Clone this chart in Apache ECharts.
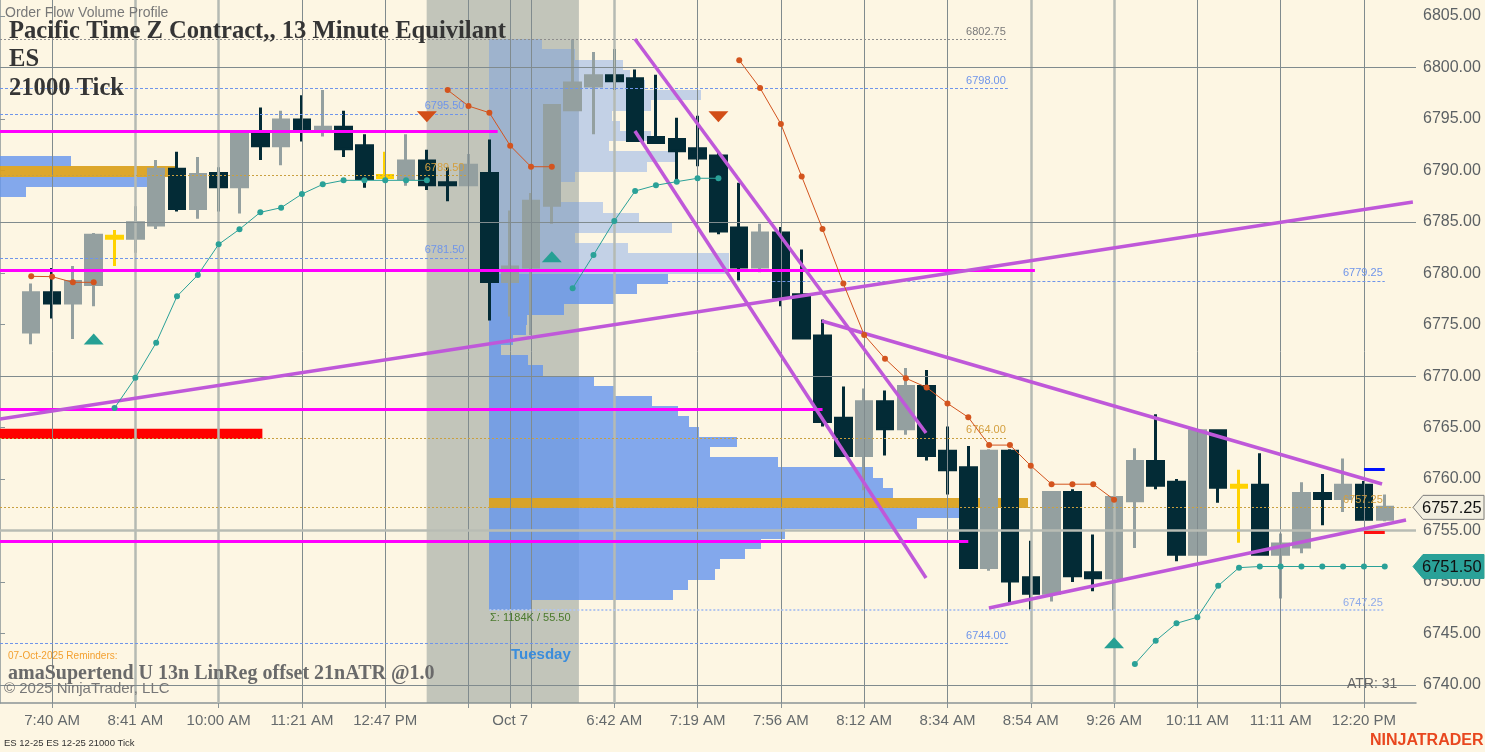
<!DOCTYPE html>
<html><head><meta charset="utf-8">
<script src="https://cdn.jsdelivr.net/npm/echarts@6/dist/echarts.min.js"></script>
<style>html,body{margin:0;padding:0;background:#fdf6e3;}#c{width:1485px;height:752px;}</style>
</head><body><div id="c"></div>
<script>
// ---------------- DATA ----------------
const barCount = 68; // slots on the time axis (one empty slot at each end)
const timeTickIndex = [2, 6, 10, 14, 18, 22, 24, 25, 29, 33, 37, 41, 45, 49, 53, 57, 61, 65];
const timeTickLabels = ['7:40 AM', '8:41 AM', '10:00 AM', '11:21 AM', '12:47 PM', '', 'Oct 7', '', '6:42 AM', '7:19 AM', '7:56 AM', '8:12 AM', '8:34 AM', '8:54 AM', '9:26 AM', '10:11 AM', '11:11 AM', '12:20 PM'];
const majorTimeIndex = [6, 10, 29, 49, 53];
const priceTicks = [6740, 6745, 6750, 6755, 6760, 6765, 6770, 6775, 6780, 6785, 6790, 6795, 6800, 6805];
const priceGridLevels = [6740, 6770, 6785, 6800];
const priorCloseLevel = 6755;

const candleOpen = [6774.3, 6778.1, 6777.1, 6778.9, 6783.4, 6783.4, 6784.7, 6790.1, 6786.3, 6789.7,
  6788.4, 6793.7, 6792.4, 6794.9, 6794.0, 6794.2, 6792.4, 6789.5, 6789.2, 6790.9,
  6788.8, 6788.6, 6789.7, 6779.2, 6780.6, 6786.6, 6795.9, 6798.2, 6799.2, 6798.9,
  6793.2, 6793.0, 6792.1, 6791.4, 6784.4, 6780.6, 6783.9, 6777.9, 6773.9, 6765.9,
  6762.3, 6767.5, 6764.9, 6769.0, 6762.7, 6761.1, 6751.4, 6762.7, 6750.4, 6748.9,
  6758.7, 6750.9, 6750.4, 6757.9, 6761.7, 6759.7, 6752.7, 6764.7, 6759.4, 6759.4,
  6752.7, 6753.4, 6758.6, 6758.1, 6759.4, 6756.1];
const candleClose = [6778.1, 6777.1, 6779.2, 6783.7, 6783.6, 6784.9, 6790.1, 6786.3, 6789.6, 6788.4,
  6793.7, 6792.4, 6794.9, 6794.0, 6794.2, 6792.1, 6789.2, 6789.3, 6790.9, 6788.6,
  6788.6, 6790.5, 6779.2, 6780.6, 6787.0, 6796.3, 6798.5, 6799.2, 6798.7, 6792.9,
  6792.7, 6791.9, 6791.2, 6784.1, 6780.6, 6783.9, 6777.7, 6773.7, 6765.6, 6762.3,
  6767.5, 6764.9, 6769.0, 6762.3, 6760.9, 6751.4, 6762.7, 6750.1, 6748.9, 6758.7,
  6750.6, 6750.4, 6758.2, 6761.7, 6759.4, 6752.7, 6764.7, 6759.2, 6759.2, 6752.7,
  6753.7, 6758.6, 6758.1, 6759.4, 6756.1, 6757.25];
const candleLow = [6773.1, 6775.6, 6773.6, 6776.8, 6780.7, 6782.0, 6784.3, 6786.0, 6785.3, 6786.0,
  6785.8, 6791.0, 6790.5, 6792.8, 6793.3, 6791.3, 6788.3, 6789.3, 6788.5, 6788.1,
  6787.0, 6788.6, 6775.4, 6775.8, 6774.0, 6784.8, 6795.9, 6793.5, 6797.8, 6792.8,
  6792.6, 6789.1, 6790.4, 6783.8, 6779.3, 6780.1, 6776.8, 6773.7, 6765.1, 6762.3,
  6758.9, 6762.3, 6764.3, 6761.8, 6758.5, 6751.3, 6751.1, 6748.0, 6747.25, 6748.1,
  6750.0, 6749.1, 6747.25, 6753.3, 6759.0, 6752.0, 6752.6, 6757.7, 6753.8, 6752.6,
  6748.4, 6752.8, 6755.5, 6756.8, 6756.0, 6755.9];
const candleHigh = [6779.0, 6780.5, 6780.7, 6783.9, 6784.2, 6786.5, 6791.0, 6791.8, 6791.3, 6790.3,
  6793.8, 6796.1, 6795.8, 6797.3, 6797.8, 6795.8, 6793.5, 6791.8, 6793.5, 6792.0,
  6790.3, 6791.6, 6793.0, 6786.1, 6787.8, 6796.3, 6802.75, 6801.5, 6801.8, 6799.8,
  6799.3, 6795.1, 6795.3, 6791.8, 6788.8, 6784.8, 6784.5, 6782.3, 6775.5, 6769.0,
  6768.8, 6768.6, 6770.8, 6770.6, 6765.1, 6763.2, 6762.9, 6762.9, 6754.0, 6758.8,
  6759.0, 6754.6, 6758.3, 6763.0, 6766.3, 6760.0, 6764.8, 6764.8, 6760.9, 6762.5,
  6754.7, 6759.7, 6760.5, 6762.0, 6759.8, 6758.5];
const firstCandleSlot = 1;
const highlightCandles = [4, 17, 58]; // painted yellow (0-based candle index)

// Supertrend style stops (segment start slot + values)
const tealStart = [5, 27, 54];
const tealValues = [
  [6766.9, 6769.85, 6773.25, 6777.76, 6779.83, 6782.81, 6784.27, 6785.92, 6786.37, 6787.7, 6788.64, 6789.03, 6789.03, 6789.03, 6789.03, 6789.03],
  [6778.54, 6781.77, 6785.08, 6787.99, 6788.55, 6788.9, 6789.23, 6789.23],
  [6742.03, 6744.29, 6745.98, 6746.57, 6749.63, 6751.39, 6751.5, 6751.5, 6751.5, 6751.5, 6751.5, 6751.5, 6751.5]
];
const redStart = [1, 21, 35];
const redValues = [
  [6779.7, 6779.67, 6779.12, 6779.12],
  [6797.8, 6796.25, 6795.6, 6792.4, 6790.35, 6790.35],
  [6800.7, 6798.0, 6794.5, 6789.4, 6784.3, 6779.0, 6774.0, 6771.7, 6769.8, 6768.9, 6767.35, 6766.0, 6763.3, 6763.3, 6761.3, 6759.5, 6759.5, 6759.5, 6758.0]
];
const buySignals = [[4, 6773.6], [26, 6781.6], [53, 6744.1]];
const sellSignals = [[20, 6795.2], [34, 6795.2]];

// Volume profile of the session (K contracts per row, bottom row first)
const profileLow = 6747.25, profileHigh = 6802.75;
const profileVolK = [4.9, 21.8, 23.5, 26.7, 27.3, 30.3, 32.2, 35.0, 50.7, 55.6,
  63.8, 47.8, 46.7, 45.4, 34.2, 26.2, 29.4, 24.8, 23.7, 22.4,
  19.3, 14.8, 12.4, 6.3, 4.6, 1.4, 2.8, 4.3, 4.5, 8.8,
  14.9, 17.5, 21.2, 28.4, 28.4, 16.4, 10.2, 21.6, 17.7, 13.5,
  8.4, 8.4, 10.2, 18.7, 22.3, 14.2, 19.1, 15.5, 14.5, 19.2,
  25.1, 18.5, 16.7, 15.8, 10.2, 6.2];
const profilePocRow = 10, profileValueAreaTopRow = 32;
const profileAnchorSlot = 23.5;
const prevProfileLow = 6787.4, prevProfileRow = 1.0;
const prevProfileVolK = [3.1, 17.4, 20.7, 8.4];
const prevProfilePocRow = 2;
const volumeSlotsPerK = 0.4053;

// Levels: [price, fromSlot, toSlot, style]
const levelLines = [
  [6802.75, 0, 48.4, 'gray'], [6798.00, 0, 48.4, 'blue'], [6795.50, 0, 22.4, 'blue'],
  [6789.50, 0, 22.4, 'orange'], [6781.50, 0, 22.4, 'blue'], [6779.25, 32.05, 66.5, 'blue'],
  [6764.00, 0, 48.4, 'orange'], [6757.25, 0, 66.5, 'orange'], [6747.25, 23.5, 66.5, 'light'],
  [6744.00, 0, 48.4, 'blue']
];
const magentaLevels = [[6793.8, 0, 23.9], [6780.3, 0, 49.7], [6766.8, 0, 39.5], [6754.0, 0, 46.5]];
const trendLines = [[0, 6765.84, 67.85, 6786.92], [30.49, 6802.76, 44.47, 6764.47], [30.49, 6793.82, 44.47, 6750.38],
  [39.47, 6775.36, 66.37, 6759.52], [47.49, 6747.47, 67.52, 6756.02]];
const redZone = [0, 12.6, 6763.9, 6764.9];
const targetHigh = [6761.0, 65.5, 66.5], targetLow = [6754.8, 65.5, 66.5];
const sessionBreak = [20.49, 27.8];
const lastPrice = 6757.25, stopPrice = 6751.50;

// ---------------- BUILD ----------------
const timeLabels = new Array(barCount).fill('');
timeTickIndex.forEach((i, k) => timeLabels[i] = timeTickLabels[k]);
const labelSet = new Set(timeTickIndex.filter((i, k) => timeTickLabels[k] !== ''));
const tickSet = new Set(timeTickIndex);

const candleData = new Array(barCount).fill(null).map(() => ['-', '-', '-', '-']);
candleOpen.forEach((o, i) => {
  const item = { value: [o, candleClose[i], candleLow[i], candleHigh[i]] };
  if (highlightCandles.includes(i)) {
    item.itemStyle = { color: '#ffd200', color0: '#ffd200', borderColor: '#ffd200', borderColor0: '#ffd200' };
  }
  candleData[firstCandleSlot + i] = item;
});
function segs(starts, vals) {
  const arr = new Array(barCount).fill('-');
  starts.forEach((s, k) => vals[k].forEach((v, j) => arr[s + j] = v));
  return arr;
}
const tealData = segs(tealStart, tealValues);
const redData = segs(redStart, redValues);

const profStep = (profileHigh - profileLow) / profileVolK.length;
const profileData = profileVolK.map((v, k) => [profileAnchorSlot, v, profileLow + k * profStep, profileLow + (k + 1) * profStep,
  k === profilePocRow ? 2 : (k <= profileValueAreaTopRow ? 0 : 1)]);
prevProfileVolK.forEach((v, k) => profileData.push([0, v, prevProfileLow + k * prevProfileRow, prevProfileLow + (k + 1) * prevProfileRow, k === prevProfilePocRow ? 2 : 0]));
const profileColors = ['rgba(100,149,237,0.8)', 'rgba(100,149,237,0.38)', 'rgba(218,160,28,0.92)'];

const levelStyle = {
  gray: { line: '#8d8d8d', label: '#7a7a7a', type: [2, 2] },
  blue: { line: '#6f95ea', label: '#6f95ea', type: [3, 2] },
  orange: { line: '#c9a040', label: '#d4a040', type: [2, 2] },
  light: { line: '#b3c6ee', label: '#8eaaea', type: [2, 2] }
};
const levelMarks = [];
levelLines.forEach(([p, a, b, s]) => {
  const st = levelStyle[s];
  levelMarks.push([{ coord: [a, p], lineStyle: { color: st.line, type: st.type, width: s === 'light' ? 2 : 1 },
    label: { show: true, position: 'insideEndTop', distance: 2, formatter: p.toFixed(2), color: st.label, fontSize: 11, fontFamily: 'Liberation Sans' } },
    { coord: [b, p] }]);
});
levelMarks.push([{ coord: [66.5, lastPrice], lineStyle: { color: '#c9a040', type: [2, 2], width: 1 }, label: { show: false } }, { coord: [barCount, lastPrice] }]);

const gridMarks = [];
timeTickIndex.forEach(i => {
  const major = majorTimeIndex.includes(i);
  gridMarks.push({ xAxis: i + 0.5, lineStyle: { color: major ? '#b5bab3' : '#808b8e', width: major ? 2.5 : 1, type: 'solid' } });
});
priceGridLevels.forEach(p => gridMarks.push({ yAxis: p, lineStyle: { color: '#808b8e', width: 1, type: 'solid' } }));
gridMarks.push({ yAxis: priorCloseLevel, lineStyle: { color: '#b8bcb4', width: 2.5, type: 'solid' } });

const drawMarks = [];
magentaLevels.forEach(([p, a, b]) => drawMarks.push([{ coord: [a, p], lineStyle: { color: '#ff00ff', width: 3, type: 'solid' } }, { coord: [b, p] }]));
trendLines.forEach(([a, p, b, q]) => drawMarks.push([{ coord: [a, p], lineStyle: { color: '#bf58d9', width: 3.5, type: 'solid' } }, { coord: [b, q] }]));
drawMarks.push([{ coord: [targetHigh[1], targetHigh[0]], lineStyle: { color: '#0010ff', width: 3, type: 'solid' } }, { coord: [targetHigh[2], targetHigh[0]] }]);
drawMarks.push([{ coord: [targetLow[1], targetLow[0]], lineStyle: { color: '#ff1010', width: 3, type: 'solid' } }, { coord: [targetLow[2], targetLow[0]] }]);

const SANS = 'Liberation Sans, Arial, sans-serif';
const SERIF = 'Liberation Serif, Times New Roman, serif';

const chart = echarts.init(document.getElementById('c'), null, { renderer: 'canvas' });
chart.setOption({
  animation: false,
  backgroundColor: '#fdf6e3',
  grid: { left: 0, right: 69, top: 0, bottom: 49, containLabel: false },
  xAxis: [{
    type: 'category', data: timeLabels, boundaryGap: true,
    axisLine: { show: true, lineStyle: { color: '#8a9497', width: 1.5 } },
    axisTick: { show: true, alignWithLabel: true, length: 5, interval: (i) => tickSet.has(i), lineStyle: { color: '#8a9497' } },
    axisLabel: { interval: (i) => labelSet.has(i), color: '#656a6c', fontSize: 15, fontFamily: SANS, margin: 10 },
    splitLine: { show: false }
  }, {
    type: 'value', min: 0, max: barCount, show: false
  }],
  yAxis: [{
    type: 'value', position: 'right', min: 6738.236, max: 6806.555, scale: true, splitNumber: 14,
    splitLine: { show: false },
    axisLine: { show: true, lineStyle: { color: '#8a9497', width: 1.5 } },
    axisTick: { show: true, length: 5, customValues: priceTicks, lineStyle: { color: '#8a9497' } },
    axisLabel: { customValues: priceTicks, formatter: v => (Math.abs(v % 5) < 1e-6 ? v.toFixed(2) : ''), color: '#5c6164', fontSize: 16, fontFamily: SANS, margin: 7 }
  }],
  series: [
    { type: 'line', xAxisIndex: 1, data: [], z: 0, silent: true,
      markArea: { silent: true, itemStyle: { color: 'rgba(135,148,145,0.5)' }, data: [[{ xAxis: sessionBreak[0] }, { xAxis: sessionBreak[1] }]] } },
    { type: 'line', xAxisIndex: 1, data: [], z: 1, silent: true,
      markLine: { silent: true, symbol: 'none', animation: false, label: { show: false }, data: gridMarks } },
    { type: 'custom', xAxisIndex: 1, z: 2, silent: true, data: profileData,
      renderItem: (params, api) => {
        const a = api.value(0), v = api.value(1), lo = api.value(2), hi = api.value(3), kind = api.value(4);
        const p0 = api.coord([a, hi]);
        const p1 = api.coord([a + v * volumeSlotsPerK, lo]);
        const y0 = Math.round(p0[1]), y1 = Math.round(p1[1]);
        const x0 = Math.round(p0[0]), x1 = Math.round(p1[0]);
        return { type: 'rect', shape: { x: x0, y: y0, width: x1 - x0, height: y1 - y0 }, style: { fill: profileColors[kind] } };
      } },
    { type: 'line', xAxisIndex: 1, data: [], z: 3, silent: true,
      markArea: { silent: true, itemStyle: { color: '#ff0000' }, data: [[{ coord: [redZone[0], redZone[3]] }, { coord: [redZone[1], redZone[2]] }]] },
      markLine: { silent: true, symbol: 'none', animation: false, data: levelMarks } },
    { type: 'candlestick', xAxisIndex: 0, z: 4, data: candleData, barWidth: 16,
      itemStyle: { color: '#94a0a0', color0: '#032b36', borderColor: '#94a0a0', borderColor0: '#032b36', borderWidth: 3 } },
    { type: 'line', xAxisIndex: 0, z: 5, data: tealData, connectNulls: false, symbol: 'circle', symbolSize: 6, showSymbol: true,
      lineStyle: { color: '#2aa198', width: 1 }, itemStyle: { color: '#2aa198', opacity: 1 } },
    { type: 'line', xAxisIndex: 0, z: 5, data: redData, connectNulls: false, symbol: 'circle', symbolSize: 6, showSymbol: true,
      lineStyle: { color: '#d3541e', width: 1 }, itemStyle: { color: '#d3541e', opacity: 1 } },
    { type: 'scatter', xAxisIndex: 0, z: 5, data: buySignals, symbol: 'triangle', symbolSize: [20, 11], itemStyle: { color: '#26a094', opacity: 1 } },
    { type: 'scatter', xAxisIndex: 0, z: 5, data: sellSignals, symbol: 'triangle', symbolRotate: 180, symbolSize: [20, 11], itemStyle: { color: '#d24e17', opacity: 1 } },
    { type: 'line', xAxisIndex: 1, data: [], z: 6, silent: true,
      markLine: { silent: true, symbol: 'none', animation: false, label: { show: false }, data: drawMarks } },
    { type: 'custom', xAxisIndex: 1, z: 7, clip: false, silent: true, data: [[lastPrice, 0], [stopPrice, 1]],
      renderItem: (params, api) => {
        const y = api.coord([0, api.value(0)])[1];
        const x = params.coordSys.x + params.coordSys.width;
        const w = api.getWidth();
        const kind = api.value(1);
        return { type: 'group', children: [
          { type: 'polygon', shape: { points: [[x - 3, y], [x + 7, y - 12], [w - 1, y - 12], [w - 1, y + 12], [x + 7, y + 12]] },
            style: { fill: kind === 0 ? '#f3efe0' : '#2aa198', stroke: kind === 0 ? '#7d7d7d' : '#2aa198', lineWidth: 1 } },
          { type: 'text', style: { x: x + 6, y: y + 1, text: api.value(0).toFixed(2), fill: '#111', font: '16.5px ' + SANS, verticalAlign: 'middle', align: 'left' } }
        ] };
      } }
  ],
  graphic: [
    { type: 'text', left: 5, top: 6, z: 100, style: { text: 'Order Flow Volume Profile', font: '14px ' + SANS, fill: '#787878' } },
    { type: 'text', left: 9, top: 19, z: 100, style: { text: 'Pacific Time Z Contract,, 13 Minute Equivilant', font: 'bold 24.6px ' + SERIF, fill: '#353535' } },
    { type: 'text', left: 9, top: 47, z: 100, style: { text: 'ES', font: 'bold 24.6px ' + SERIF, fill: '#353535' } },
    { type: 'text', left: 9, top: 76, z: 100, style: { text: '21000 Tick', font: 'bold 24.6px ' + SERIF, fill: '#353535' } },
    { type: 'text', left: 490, top: 612, z: 100, style: { text: 'Σ: 1184K / 55.50', font: '11px ' + SANS, fill: '#4a7a2c' } },
    { type: 'text', left: 511, top: 647, z: 100, style: { text: 'Tuesday', font: 'bold 15px ' + SANS, fill: '#3a8ddc' } },
    { type: 'text', left: 8, top: 651, z: 100, style: { text: '07-Oct-2025 Reminders:', font: '10px ' + SANS, fill: '#f3a030' } },
    { type: 'text', left: 8, top: 664, z: 100, style: { text: 'amaSupertend U 13n LinReg offset 21nATR @1.0', font: 'bold 20px ' + SERIF, fill: '#6a6a6a' } },
    { type: 'text', left: 4, top: 681, z: 100, style: { text: '© 2025 NinjaTrader, LLC', font: '15px ' + SANS, fill: '#777' } },
    { type: 'text', left: 1347, top: 677, z: 100, style: { text: 'ATR: 31', font: '14px ' + SANS, fill: '#666' } },
    { type: 'text', left: 4, top: 738, z: 100, style: { text: 'ES 12-25 ES 12-25 21000 Tick', font: '9.5px ' + SANS, fill: '#333' } },
    { type: 'text', left: 1370, top: 733, z: 100, style: { text: 'NINJATRADER', font: 'bold 16px ' + SANS, fill: '#e8471f' } }
  ]
});
</script></body></html>
